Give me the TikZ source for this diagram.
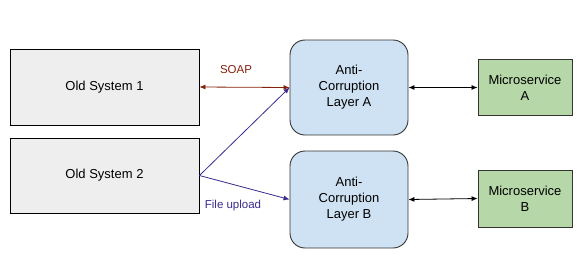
\documentclass[tikz,border=0pt]{standalone}
\usepackage{fontspec}
\setmainfont{Liberation Sans}
\usetikzlibrary{arrows.meta}
\definecolor{oldgray}{HTML}{EEEEEE}
\definecolor{aclblue}{HTML}{CFE2F3}
\definecolor{msgreen}{HTML}{B6D7A8}
\definecolor{soapred}{HTML}{85200C}
\definecolor{uplpurple}{HTML}{3C2A8E}
\begin{document}
\begin{tikzpicture}[x=1pt, y=-1pt,
  every node/.style={font=\fontsize{13}{16}\selectfont, align=center, inner sep=0pt},
  oldbox/.style={rectangle, draw=black, line width=0.9pt, fill=oldgray, minimum width=189pt},
  aclbox/.style={rectangle, rounded corners=15pt, draw=black!80, line width=0.9pt, fill=aclblue, minimum width=118pt},
  msbox/.style={rectangle, draw=black!80, line width=0.9pt, fill=msgreen, minimum width=94pt},
  link/.style={line width=0.8pt, {Latex[length=6pt,width=5pt]}-{Latex[length=6pt,width=5pt]}},
  feed/.style={line width=0.8pt, uplpurple, -{Latex[length=6pt,width=5pt]}},
  lbl/.style={font=\fontsize{11.5}{14}\selectfont},
]
\useasboundingbox (0,0) rectangle (585,271);
\node[oldbox, minimum height=76pt] (oldone) at (104.5,87) {Old System 1};
\node[oldbox, minimum height=75pt] (oldtwo) at (104.5,175.5) {Old System 2};
\node[aclbox, minimum height=95pt] (acla) at (349,87.5) {Anti-\\Corruption\\Layer A};
\node[aclbox, minimum height=97pt] (aclb) at (349,199.5) {Anti-\\Corruption\\Layer B};
\node[msbox, minimum height=56pt] (msa) at (525,87.5) {Microservice\\A};
\node[msbox, minimum height=57pt] (msb) at (525,198.5) {Microservice\\B};

\draw[link, soapred] (oldone.east) -- (acla.west);
\node[lbl, text=soapred] (soap) at (236,70) {SOAP};
\draw[feed] (oldtwo.east) -- (acla.west);
\draw[feed] (oldtwo.east) -- (aclb.west);
\node[lbl, text=uplpurple] (upload) at (233,206) {File upload};

\draw[link] (acla.east) -- (msa.west);
\draw[link] (aclb.east) -- (msb.west);
\end{tikzpicture}
\end{document}
